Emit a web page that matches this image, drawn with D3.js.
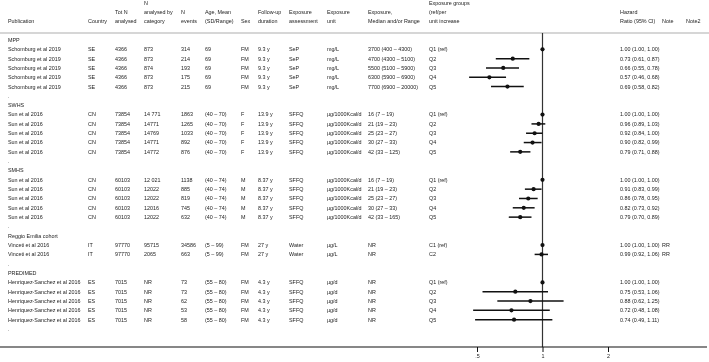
<!DOCTYPE html>
<style>
body { margin: 0; background: #fff; }
svg { will-change: transform; opacity: 0.999; }
svg text { font-family: "Liberation Sans", Arial, sans-serif; font-size: 5.4px; fill: #222; }
</style>
<svg width="709" height="362"></svg>
<script src="https://cdn.jsdelivr.net/npm/d3@7/dist/d3.min.js"></script>
<script>

// one entry per table row, "" for spacer / group rows
var groups = ["MPP", "SWHS", "SMHS", "Reggio Emilia cohort", "PREDIMED"];
var publication = [
  ["Schomburg et al 2019","Schomburg et al 2019","Schomburg et al 2019","Schomburg et al 2019","Schomburg et al 2019"],
  ["Sun et al 2016","Sun et al 2016","Sun et al 2016","Sun et al 2016","Sun et al 2016"],
  ["Sun et al 2016","Sun et al 2016","Sun et al 2016","Sun et al 2016","Sun et al 2016"],
  ["Vinceti et al 2016","Vinceti et al 2016"],
  ["Henriquez-Sanchez et al 2016","Henriquez-Sanchez et al 2016","Henriquez-Sanchez et al 2016","Henriquez-Sanchez et al 2016","Henriquez-Sanchez et al 2016"]
];
var country = ["SE", "CN", "CN", "IT", "ES"];
var totN = ["4366", "73854", "60103", "97770", "7015"];
var nCategory = [
  ["873","873","874","873","873"],
  ["14 771","14771","14769","14771","14772"],
  ["12 021","12022","12022","12016","12022"],
  ["95715","2065"],
  ["NR","NR","NR","NR","NR"]
];
var nEvents = [
  ["314","214","193","175","215"],
  ["1863","1265","1033","892","876"],
  ["1138","885","819","745","632"],
  ["34586","663"],
  ["73","73","62","53","58"]
];
var age = ["69", "(40 \u2013 70)", "(40 \u2013 74)", "(5 \u2013 99)", "(55 \u2013 80)"];
var sex = ["FM", "F", "M", "FM", "FM"];
var followUp = ["9.3 y", "13.9 y", "8.37 y", "27 y", "4.3 y"];
var assessment = ["SeP", "SFFQ", "SFFQ", "Water", "SFFQ"];
var unit = ["mg/L", "\u00b5g/1000Kcal/d", "\u00b5g/1000Kcal/d", "\u00b5g/L", "\u00b5g/d"];
var exposure = [
  ["3700 (400 \u2013 4300)","4700 (4300 \u2013 5100)","5500 (5100 \u2013 5900)","6300 (5900 \u2013 6900)","7700 (6900 \u2013 20000)"],
  ["16 (7 \u2013 19)","21 (19 \u2013 23)","25 (23 \u2013 27)","30 (27 \u2013 33)","42 (33 \u2013 125)"],
  ["16 (7 \u2013 19)","21 (19 \u2013 23)","25 (23 \u2013 27)","30 (27 \u2013 33)","42 (33 \u2013 165)"],
  ["NR","NR"],
  ["NR","NR","NR","NR","NR"]
];
var expGroups = [
  ["Q1 (ref)","Q2","Q3","Q4","Q5"],
  ["Q1 (ref)","Q2","Q3","Q4","Q5"],
  ["Q1 (ref)","Q2","Q3","Q4","Q5"],
  ["C1 (ref)","C2"],
  ["Q1 (ref)","Q2","Q3","Q4","Q5"]
];
var hr = [
  [1.00, 0.73, 0.66, 0.57, 0.69],
  [1.00, 0.96, 0.92, 0.90, 0.79],
  [1.00, 0.91, 0.86, 0.82, 0.79],
  [1.00, 0.99],
  [1.00, 0.75, 0.88, 0.72, 0.74]
];
var lower = [
  [1.00, 0.61, 0.55, 0.46, 0.58],
  [1.00, 0.89, 0.84, 0.82, 0.71],
  [1.00, 0.83, 0.78, 0.73, 0.70],
  [1.00, 0.92],
  [1.00, 0.53, 0.62, 0.48, 0.49]
];
var upper = [
  [1.00, 0.87, 0.78, 0.68, 0.82],
  [1.00, 1.03, 1.00, 0.99, 0.88],
  [1.00, 0.99, 0.95, 0.92, 0.89],
  [1.00, 1.06],
  [1.00, 1.06, 1.25, 1.08, 1.11]
];
var note = ["", "", "", "RR", ""];
var axisTicks = [0.5, 1, 2];
var axisLabels = [".5", "1", "2"];

var f2 = d3.format(".2f");

// flatten into rows
var rows = [];
groups.forEach(function(gname, gi) {
  rows.push({type: "group", label: gname});
  publication[gi].forEach(function(p, j) {
    rows.push({type: "study", cells: [p, country[gi], totN[gi], nCategory[gi][j], nEvents[gi][j], age[gi],
      sex[gi], followUp[gi], assessment[gi], unit[gi], exposure[gi][j], expGroups[gi][j],
      f2(hr[gi][j]) + " (" + f2(lower[gi][j]) + ", " + f2(upper[gi][j]) + ")", note[gi], ""],
      hr: hr[gi][j], lo: lower[gi][j], hi: upper[gi][j]});
  });
  rows.push({type: "spacer", label: "."});
});

var colX = [8, 88, 115, 144, 181, 205, 241, 258, 289, 327, 368, 429, 620, 662, 686];
var headers = [
  ["", "", "Publication"], ["", "", "Country"], ["", "Tot N", "analysed"],
  ["N", "analysed by", "category"], ["", "N", "events"], ["", "Age, Mean", "(SD/Range)"],
  ["", "", "Sex"], ["", "Follow-up", "duration"], ["", "Exposure", "assessment"],
  ["", "Exposure", "unit"], ["", "Exposure,", "Median and/or Range"],
  ["Exposure groups", "(ref/per", "unit increase"], ["", "Hazard", "Ratio (95% CI)"],
  ["", "", "Note"], ["", "", "Note2"]
];

var svg = d3.select("svg");

var y = d3.scalePoint().domain(d3.range(rows.length)).range([40, 329]);
var x = d3.scaleLog().domain([0.5, 2]).range([477, 608]);
var axisY = 347;

// header
var hg = svg.append("g");
headers.forEach(function(h, i) {
  h.forEach(function(t, k) {
    if (!t) return;
    hg.append("text").attr("x", colX[i]).attr("y", 3 + k * 9.3)
      .attr("dy", "0.35em").text(t);
  });
});
svg.append("line").attr("x1", 0).attr("x2", 709).attr("y1", 33).attr("y2", 33)
  .attr("stroke", "#c8c8c8").attr("stroke-width", 1.5);

// table rows
var rg = svg.append("g");
rows.forEach(function(r, i) {
  var yy = y(i);
  if (r.type !== "study") {
    rg.append("text").attr("x", colX[0]).attr("y", yy).attr("dy", "0.35em").text(r.label);
  } else {
    r.cells.forEach(function(c, k) {
      if (!c) return;
      rg.append("text").attr("x", colX[k]).attr("y", yy).attr("dy", "0.35em").text(c);
    });
  }
});

// reference line at 1
svg.append("line").attr("x1", x(1)).attr("x2", x(1)).attr("y1", 33).attr("y2", axisY)
  .attr("stroke", "#333").attr("stroke-width", 1.2);

// CIs and points
var study = rows.map(function(r, i) { r.i = i; return r; }).filter(function(r) { return r.type === "study"; });
svg.append("g").selectAll("line").data(study).enter().append("line")
  .attr("x1", function(d) { return x(d.lo); })
  .attr("x2", function(d) { return x(d.hi); })
  .attr("y1", function(d) { return y(d.i); })
  .attr("y2", function(d) { return y(d.i); })
  .attr("stroke", "#111").attr("stroke-width", 1.5);
svg.append("g").selectAll("circle").data(study).enter().append("circle")
  .attr("cx", function(d) { return x(d.hr); })
  .attr("cy", function(d) { return y(d.i); })
  .attr("r", 2.1).attr("fill", "#111");

// axis
var ax = svg.append("g").attr("transform", "translate(0," + axisY + ")")
  .call(d3.axisBottom(x).tickValues(axisTicks).tickSize(5)
    .tickFormat(function(d, i) { return axisLabels[i]; }));
ax.select(".domain").remove();
ax.selectAll(".tick line").attr("stroke", "#111").attr("stroke-width", 1);
ax.selectAll(".tick text").attr("font-family", null).attr("font-size", null).attr("y", 7);
svg.append("line").attr("x1", 0).attr("x2", 707).attr("y1", axisY).attr("y2", axisY)
  .attr("stroke", "#111").attr("stroke-width", 1.2);

</script>
